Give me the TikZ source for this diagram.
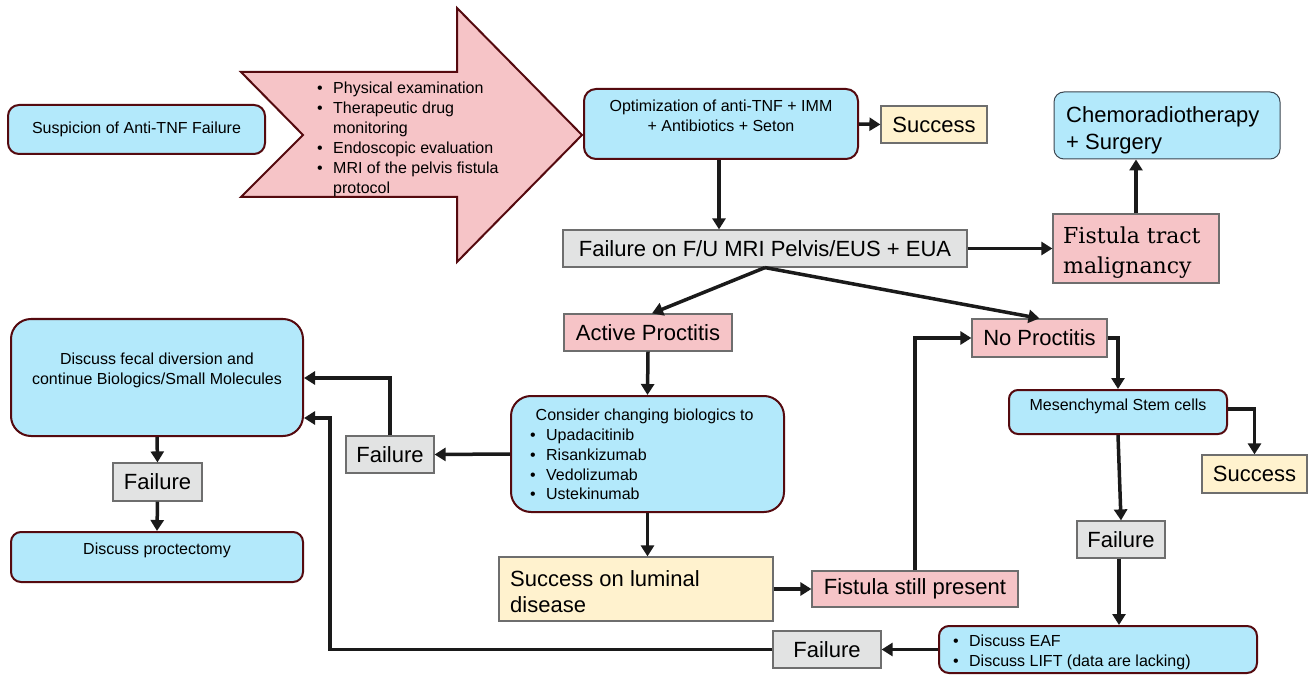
\documentclass[tikz,border=0pt]{standalone}
\usepackage{fontspec}
\setmainfont{Liberation Sans}
\newfontfamily\serifx{DejaVu Serif}
\usetikzlibrary{arrows.meta,calc}
\definecolor{bluef}{RGB}{179,233,251}
\definecolor{maroonx}{RGB}{85,10,15}
\definecolor{pinkf}{RGB}{246,196,199}
\definecolor{greyf}{RGB}{226,227,227}
\definecolor{creamf}{RGB}{255,242,206}
\definecolor{edgeg}{RGB}{110,110,110}
\definecolor{slate}{RGB}{60,70,80}
\definecolor{ink}{RGB}{26,26,26}
\newcommand\bul{\makebox[16pt][l]{•}}
\newcommand\hng{\hspace*{16pt}}
\newcommand\smallf{\fontsize{16}{20}\selectfont}
\newcommand\bigf{\fontsize{22}{27}\selectfont}
\tikzset{
  rbox/.style={draw=maroonx, line width=2pt, fill=bluef, rounded corners=11pt, inner sep=0pt},
  sbox/.style={draw=edgeg, line width=1.2pt, inner sep=0pt},
  greybox/.style={sbox, fill=greyf, font=\bigf},
  pinkbox/.style={sbox, fill=pinkf, font=\bigf},
  creambox/.style={sbox, fill=creamf, font=\bigf},
  txt/.style={inner sep=0pt, align=left},
  conn/.style={draw=ink, line width=3.5pt, miter limit=4, -{Triangle[length=11pt,width=13pt]}},
}
\begin{document}
\begin{tikzpicture}[x=1pt,y=-1pt]
\useasboundingbox[fill=white] (0,0) rectangle (1309,676);

% big arrow
\draw[draw=maroonx, line width=2pt, fill=pinkf, line join=miter]
  (241,72) -- (457,72) -- (457,8) -- (582,135) -- (457,262) -- (457,197) -- (241,197) -- (303,135) -- cycle;
\node[txt, anchor=north west, font=\smallf] (arrtxt) at (317,79)
  {\strut\bul Physical examination\\ \bul Therapeutic drug\\ \hng monitoring\\ \bul Endoscopic evaluation\\ \bul MRI of the pelvis fistula\\ \hng protocol};

% boxes
\node[rbox, minimum width=257pt, minimum height=49pt, font=\smallf] (susp) at (136.5,129.5) {Suspicion of Anti-TNF Failure};
\node[rbox, rounded corners=12pt, minimum width=274pt, minimum height=70pt] (opt) at (721,124) {};
\node[txt, align=center, anchor=north, font=\smallf] (opttxt) at (721,97) {\strut Optimization of anti-TNF + IMM\\ + Antibiotics + Seton};
\node[creambox, minimum width=106pt, minimum height=37pt] (succ1) at (934,124.5) {Success};
\node[draw=slate, line width=1pt, fill=bluef, rounded corners=10pt, inner sep=0pt, minimum width=226pt, minimum height=67pt] (chemo) at (1167,125.5) {};
\node[txt, anchor=north west, font=\fontsize{22}{27}\selectfont] (chemotxt) at (1066,103) {\strut Chemoradiotherapy\\ + Surgery};
\node[pinkbox, minimum width=166pt, minimum height=69pt] (fistm) at (1136,248.5) {};
\node[txt, anchor=north west, font=\serifx\fontsize{22}{30}\selectfont] (fistmtxt) at (1063,222) {\strut Fistula tract\\ malignancy};
\node[greybox, minimum width=404pt, minimum height=37pt] (fail1) at (765,248.5) {Failure on F/U MRI Pelvis/EUS + EUA};
\node[pinkbox, minimum width=168pt, minimum height=37pt] (act) at (648,332.5) {Active Proctitis};
\node[pinkbox, minimum width=135pt, minimum height=38pt] (nop) at (1039.5,338) {No Proctitis};
\node[rbox, rounded corners=9pt, minimum width=218pt, minimum height=44pt] (mes) at (1118,412) {};
\node[txt, anchor=north, font=\smallf] (mestxt) at (1118,396) {\strut Mesenchymal Stem cells};
\node[creambox, minimum width=105pt, minimum height=38pt] (succ2) at (1254.5,474) {Success};
\node[greybox, minimum width=88pt, minimum height=37pt] (fail4) at (1121,539.5) {Failure};
\node[rbox, rounded corners=10pt, minimum width=318pt, minimum height=47pt] (eaf) at (1098,649.5) {};
\node[txt, anchor=north west, font=\smallf] (eaftxt) at (953,632) {\strut\bul Discuss EAF\\ \bul Discuss LIFT (data are lacking)};
\node[greybox, minimum width=108pt, minimum height=37pt] (fail5) at (827,649.5) {Failure};
\node[pinkbox, minimum width=206pt, minimum height=36pt] (still) at (915,589) {Fistula still present};
\node[creambox, minimum width=274pt, minimum height=64pt] (lum) at (636,589) {};
\node[txt, anchor=north west, font=\fontsize{22}{26}\selectfont] (lumtxt) at (510,568) {\strut Success on luminal\\ disease};
\node[rbox, rounded corners=20pt, minimum width=273pt, minimum height=116pt] (cons) at (647.5,454) {};
\node[txt, anchor=north west, font=\fontsize{16}{19.7}\selectfont] (constxt) at (530,407) {\strut\hspace*{5.5pt}Consider changing biologics to\\ \bul Upadacitinib\\ \bul Risankizumab\\ \bul Vedolizumab\\ \bul Ustekinumab};
\node[greybox, minimum width=88pt, minimum height=37pt] (fail2) at (390,454.5) {Failure};
\node[rbox, rounded corners=20pt, minimum width=292pt, minimum height=117pt] (fecal) at (157,377.5) {};
\node[txt, align=center, anchor=north, font=\fontsize{16}{19.5}\selectfont] (fecaltxt) at (157,351) {\strut Discuss fecal diversion and\\ continue Biologics/Small Molecules};
\node[greybox, minimum width=89pt, minimum height=38pt] (fail3) at (157.5,482) {Failure};
\node[rbox, rounded corners=10pt, minimum width=292pt, minimum height=50pt] (proc) at (157,557) {};
\node[txt, anchor=north, font=\smallf] (proctxt) at (157,540) {\strut Discuss proctectomy};

% helper coordinates
\coordinate (c1) at (330,418);
\coordinate (c2) at (390,378);
\coordinate (c3) at (915,338);

% connectors
\draw[conn] (opt.east) -- (succ1.west);
\draw[conn] ([xshift=-2pt]opt.south) -- ([xshift=-2pt]opt.south |- fail1.north);
\draw[conn] (fail1.east) -- (fistm.west);
\draw[conn] (fistm.north) -- (fistm.north |- chemo.south);
\draw[conn] (fail1.south) -- ([xshift=4pt]act.north);
\draw[conn] (fail1.south) -- (nop.north);
\draw[conn] (nop.east) -| (mes.north);
\draw[conn] ([yshift=3pt]mes.east) -| (succ2.north);
\draw[conn] (mes.south) -- (fail4.north);
\draw[conn] ([xshift=-2pt]fail4.south) -- ([xshift=-2pt]fail4.south |- eaf.north);
\draw[conn] (eaf.west) -- (fail5.east);
\draw[conn] (fail5.west) -| (c1) -- (c1 -| fecal.east);
\draw[conn] (cons.west) -- (fail2.east);
\draw[conn] (fail2.north) -- (c2) -- (c2 -| fecal.east);
\draw[conn] (act.south) -- (cons.north);
\draw[conn] (cons.south) -- (cons.south |- lum.north);
\draw[conn] (lum.east) -- (still.west);
\draw[conn] (still.north) -- (c3) -- (nop.west);
\draw[conn] (fecal.south) -- (fail3.north);
\draw[conn] (fail3.south) -- (proc.north);
\end{tikzpicture}
\end{document}
